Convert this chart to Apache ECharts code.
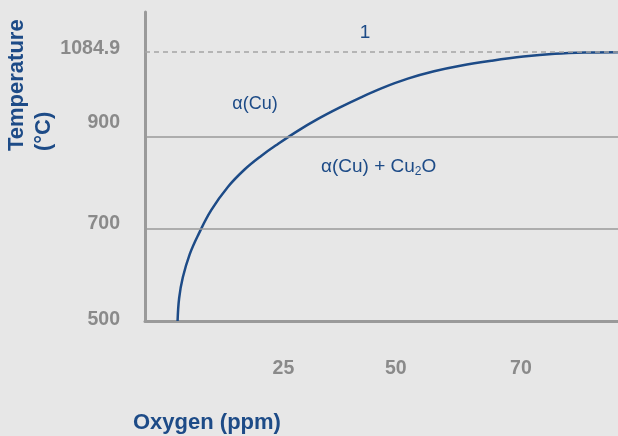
<!DOCTYPE html>
<html>
<head>
<meta charset="utf-8">
<script src="https://cdn.jsdelivr.net/npm/echarts@6/dist/echarts.min.js"></script>
<style>
html,body{margin:0;padding:0;background:#e7e7e7;}
#chart{width:618px;height:436px;}
</style>
</head>
<body>
<div id="chart"></div>
<script>
// Data
const oxygenPpm = [6.2, 6.5, 7.2, 8.5, 10.2, 12.6, 15.8, 19.0, 22.1, 25.3, 29.0, 33.0, 37.0, 41.0, 45.2, 50.0, 55.0, 60.0, 66.0, 72.0, 78.0, 84.0, 90.0];
const temperatureC = [500, 550, 595, 645, 689, 741, 792, 830, 859, 885, 913, 940, 964, 986, 1007, 1027, 1043, 1055, 1066, 1075, 1081, 1083.8, 1084.6];
const yTickValues = [500, 700, 900, 1084.9];
const xTickValues = [25, 50, 70];
const solidRefLines = [700, 900];
const meltingPoint = 1084.9;
const yTitle = 'Temperature\n(°C)';
const xTitle = 'Oxygen (ppm)';
const lineLabel = '1';
const regionUpper = 'α(Cu)';

const BLUE = '#1d4b87';
const GRAY = '#8a8a8a';
const AXIS = '#9a9a9a';
const FONT = 'Liberation Sans, Arial, sans-serif';

// label nudges (layout only) to follow the reference's hand-placed tick labels
const yLabelLift = [2, 10, 28, 6];            // bottom padding per y tick
const xLabelShift = [[0, 0, 0, 14], [0, 24, 0, 0], [0, 0, 0, 16]]; // padding per x tick

const chart = echarts.init(document.getElementById('chart'), null, {renderer: 'canvas'});

const markData = solidRefLines.map(v => ({yAxis: v, lineStyle: {type: 'solid', color: AXIS, width: 1.5}}));
markData.push({yAxis: meltingPoint, lineStyle: {type: [5, 4], color: '#a5a5a5', width: 1.5}});

const labelStyle = {color: GRAY, fontSize: 19.5, fontWeight: 'bold', fontFamily: FONT};
const yRich = {}, xRich = {};
yTickValues.forEach((v, i) => { yRich['y' + i] = Object.assign({padding: [0, 0, yLabelLift[i], 0]}, labelStyle); });
xTickValues.forEach((v, i) => { xRich['x' + i] = Object.assign({padding: xLabelShift[i]}, labelStyle); });

chart.setOption({
  animation: false,
  backgroundColor: '#e7e7e7',
  grid: {left: 145, right: 0, top: 12, bottom: 115, containLabel: false},
  xAxis: {
    type: 'value', min: 0, max: 90,
    axisLine: {show: true, onZero: false, lineStyle: {color: AXIS, width: 3}},
    axisTick: {show: false},
    splitLine: {show: false},
    axisLabel: {
      customValues: xTickValues,
      margin: 38,
      ...labelStyle,
      formatter: v => { const i = xTickValues.indexOf(v); return '{x' + i + '|' + v + '}'; },
      rich: xRich
    }
  },
  yAxis: {
    type: 'value', min: 500, max: 1172,
    axisLine: {show: true, onZero: false, lineStyle: {color: AXIS, width: 3}},
    axisTick: {show: false},
    splitLine: {show: false},
    axisLabel: {
      customValues: yTickValues,
      margin: 25,
      ...labelStyle,
      formatter: v => { const i = yTickValues.indexOf(v); return '{y' + i + '|' + v + '}'; },
      rich: yRich
    }
  },
  series: [{
    type: 'line',
    data: oxygenPpm.map((x, i) => [x, temperatureC[i]]),
    smooth: 0.4,
    showSymbol: false,
    symbol: 'none',
    lineStyle: {color: BLUE, width: 2.5},
    markLine: {
      silent: true,
      symbol: 'none',
      label: {show: false},
      emphasis: {disabled: true},
      data: markData
    },
    z: 3
  }],
  graphic: [
    {
      type: 'text', x: 3, y: 151, rotation: Math.PI / 2,
      style: {
        text: yTitle, fill: BLUE, fontSize: 22, fontWeight: 'bold', fontFamily: FONT,
        align: 'left', verticalAlign: 'top', lineHeight: 27
      }
    },
    {
      type: 'text', x: 133, y: 423,
      style: {
        text: xTitle, fill: BLUE, fontSize: 22, fontWeight: 'bold', fontFamily: FONT,
        align: 'left', verticalAlign: 'middle'
      }
    },
    {
      type: 'text', x: 365, y: 33,
      style: {
        text: lineLabel, fill: BLUE, fontSize: 19, fontFamily: FONT,
        align: 'center', verticalAlign: 'middle'
      }
    },
    {
      type: 'text', x: 255, y: 104,
      style: {
        text: regionUpper, fill: BLUE, fontSize: 18, fontFamily: FONT,
        align: 'center', verticalAlign: 'middle'
      }
    },
    {
      type: 'text', x: 321, y: 167,
      style: {
        text: '{a|α(Cu) + Cu}{s|2}{a|O}',
        align: 'left', verticalAlign: 'middle',
        rich: {
          a: {fill: BLUE, fontSize: 19, lineHeight: 22, fontFamily: FONT},
          s: {fill: BLUE, fontSize: 12, lineHeight: 14, verticalAlign: 'bottom', fontFamily: FONT}
        }
      }
    }
  ]
});
</script>
</body>
</html>
